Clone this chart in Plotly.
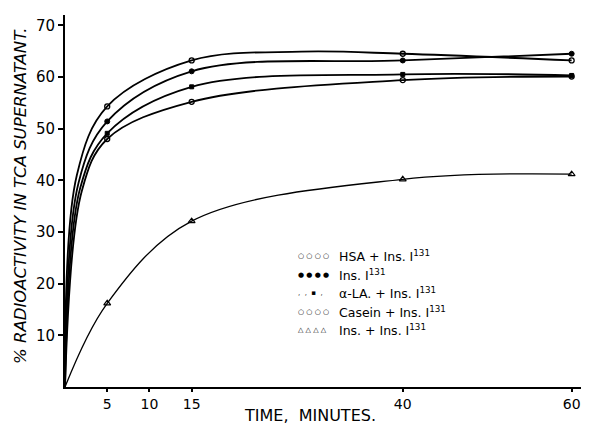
import plotly.graph_objects as go

# ---- data ----
t_marks = [5, 15, 40, 60]
hsa_v = [54.3, 63.2, 64.5, 63.2]
ins_v = [51.4, 61.1, 63.2, 64.5]
ala_v = [49.1, 58.1, 60.5, 60.3]
casein_v = [48.0, 55.2, 59.4, 60.1]
insins_v = [16.2, 32.1, 40.2, 41.2]

# curve paths (origin + visible bends)
hsa_ct = [0, 1.4, 5, 15, 28, 40, 60]
hsa_cv = [0, 41.0, 54.3, 63.2, 64.9, 64.5, 63.2]
ins_ct = [0, 1.6, 5, 15, 40, 60]
ins_cv = [0, 39.5, 51.4, 61.1, 63.2, 64.5]
ala_ct = [0, 1.8, 5, 15, 40, 60]
ala_cv = [0, 38.5, 49.1, 58.1, 60.5, 60.3]
cas_ct = [0, 2.0, 5, 15, 40, 60]
cas_cv = [0, 38.0, 48.0, 55.2, 59.4, 60.1]
tri_ct = [0, 5, 15, 40, 60]
tri_cv = [0, 16.2, 32.1, 40.2, 41.2]

x_ticks = [5, 10, 15, 40, 60]
y_ticks = [10, 20, 30, 40, 50, 60, 70]

legend_glyphs = [
    "\u25cb \u25cb \u25cb \u25cb",
    "\u25cf \u25cf \u25cf \u25cf",
    ",  ,  \u25aa  ,",
    "\u25cb \u25cb \u25cb \u25cb",
    "\u25b3 \u25b3 \u25b3 \u25b3",
]
legend_texts = [
    "HSA + Ins. I<sup>131</sup>",
    "Ins. I<sup>131</sup>",
    "\u03b1-LA. + Ins. I<sup>131</sup>",
    "Casein + Ins. I<sup>131</sup>",
    "Ins. + Ins. I<sup>131</sup>",
]

FONT = "DejaVu Sans"
fig = go.Figure()

curves = [
    (hsa_ct, hsa_cv, 1.8),
    (ins_ct, ins_cv, 1.8),
    (ala_ct, ala_cv, 1.8),
    (cas_ct, cas_cv, 1.8),
    (tri_ct, tri_cv, 1.3),
]
for ct, cv, w in curves:
    fig.add_trace(go.Scatter(x=ct, y=cv, mode="lines",
                             line=dict(color="black", width=w, shape="spline", smoothing=1.0),
                             hoverinfo="skip", showlegend=False))

markers = [
    (hsa_v, "circle-open", 5, 1.3),
    (ins_v, "circle", 5, 1),
    (ala_v, "square", 4, 1),
    (casein_v, "circle-open", 5, 1.3),
    (insins_v, "triangle-up-open", 6, 1.2),
]
for vals, sym, sz, lw in markers:
    fig.add_trace(go.Scatter(x=t_marks, y=vals, mode="markers",
                             marker=dict(symbol=sym, size=sz, color="black",
                                         line=dict(color="black", width=lw)),
                             showlegend=False))

# plot area in page pixels: left 65, right 586, top 15, bottom 387
PW, PH = 521, 372
row_y = [256, 274.5, 293, 311.5, 330]
for glyph, label, py in zip(legend_glyphs, legend_texts, row_y):
    yp = (387 - py) / PH
    fig.add_annotation(x=(296 - 65) / PW, y=yp, xref="paper", yref="paper",
                       text=glyph, showarrow=False, xanchor="left", yanchor="middle",
                       font=dict(family=FONT, size=7, color="black"))
    fig.add_annotation(x=(337 - 65) / PW, y=yp, xref="paper", yref="paper",
                       text=label, showarrow=False, xanchor="left", yanchor="middle",
                       font=dict(family=FONT, size=12.5, color="black"))

fig.add_annotation(x=(20 - 65) / PW, y=(387 - 196) / PH, xref="paper", yref="paper",
                   text="<i>% RADIOACTIVITY IN TCA SUPERNATANT.</i>", textangle=-90,
                   showarrow=False, xanchor="center", yanchor="middle",
                   font=dict(family=FONT, size=16.5, color="black"))
fig.add_annotation(x=(310 - 65) / PW, y=(387 - 415) / PH, xref="paper", yref="paper",
                   text="TIME,  MINUTES.", showarrow=False, xanchor="center", yanchor="middle",
                   font=dict(family=FONT, size=16, color="black"))

# the page adds an 8px body margin, so the figure is laid out 8px up-left
fig.update_layout(
    width=589, height=427,
    margin=dict(l=57, r=11, t=7, b=48),
    paper_bgcolor="white", plot_bgcolor="white",
    font=dict(family=FONT, color="black"),
    xaxis=dict(range=[0, 61.7], tickvals=x_ticks, ticktext=[str(v) for v in x_ticks],
               showgrid=False, zeroline=False, showline=True, linecolor="black", linewidth=2,
               ticks="outside", ticklen=3, tickwidth=1.5, tickcolor="black",
               tickfont=dict(family=FONT, size=14)),
    yaxis=dict(range=[0, 72], tickvals=y_ticks, ticktext=[str(v) for v in y_ticks],
               showgrid=False, zeroline=False, showline=True, linecolor="black", linewidth=2,
               ticks="outside", ticklen=5, tickwidth=1.5, tickcolor="black",
               tickfont=dict(family=FONT, size=15)),
)

fig.write_html("out.html")
